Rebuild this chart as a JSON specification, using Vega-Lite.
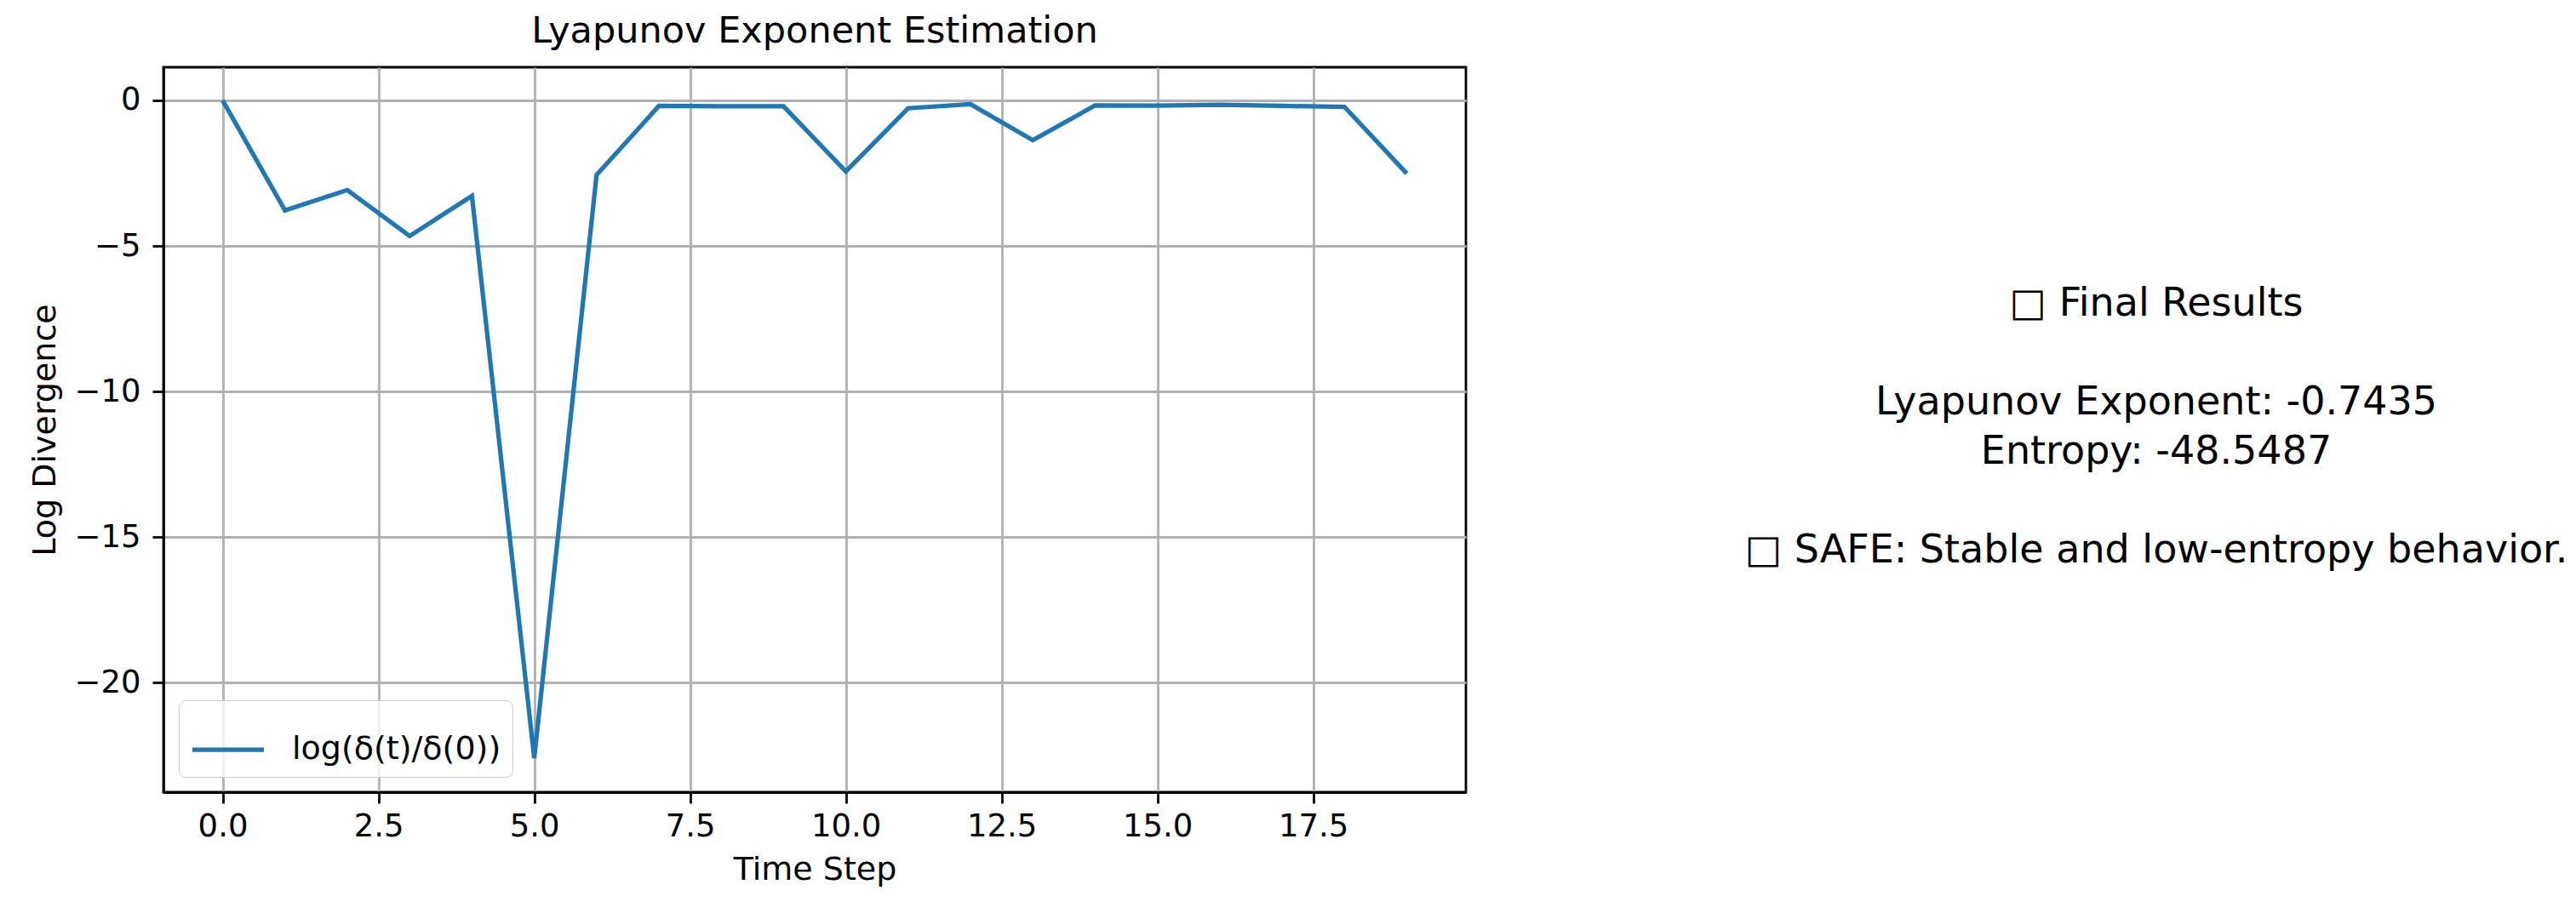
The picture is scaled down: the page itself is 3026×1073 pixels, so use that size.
{
  "$schema": "https://vega.github.io/schema/vega-lite/v6.json",
  "background": "white",
  "padding": {"left": 33, "top": 14, "right": 0, "bottom": 0},
  "config": {
    "font": "DejaVu Sans",
    "view": {"stroke": "black", "strokeWidth": 2.8},
    "axis": {
      "labelFont": "DejaVu Sans",
      "titleFont": "DejaVu Sans",
      "labelFontSize": 37,
      "titleFontSize": 38,
      "titleFontWeight": "normal",
      "labelColor": "black",
      "titleColor": "black",
      "tickColor": "black",
      "tickSize": 13,
      "tickWidth": 2.8,
      "domainColor": "black",
      "domainWidth": 2.8,
      "gridColor": "#b0b0b0",
      "gridWidth": 2.8,
      "gridOpacity": 1,
      "labelPadding": 14
    }
  },
  "hconcat": [
    {
      "width": 1530,
      "height": 852,
      "title": {"text": "Lyapunov Exponent Estimation", "fontSize": 43, "fontWeight": "normal", "font": "DejaVu Sans", "color": "black", "anchor": "middle", "offset": 20},
      "data": {"values": [
        {"t": 0, "v": 0.0},
        {"t": 1, "v": -3.78},
        {"t": 2, "v": -3.08},
        {"t": 3, "v": -4.66},
        {"t": 4, "v": -3.28},
        {"t": 5, "v": -22.6},
        {"t": 6, "v": -2.56},
        {"t": 7, "v": -0.19},
        {"t": 8, "v": -0.2},
        {"t": 9, "v": -0.2},
        {"t": 10, "v": -2.44},
        {"t": 11, "v": -0.27},
        {"t": 12, "v": -0.13},
        {"t": 13, "v": -1.37},
        {"t": 14, "v": -0.17},
        {"t": 15, "v": -0.18},
        {"t": 16, "v": -0.15},
        {"t": 17, "v": -0.19},
        {"t": 18, "v": -0.22},
        {"t": 19, "v": -2.51}
      ]},
      "mark": {"type": "line", "strokeWidth": 5.25, "clip": true},
      "encoding": {
        "x": {
          "field": "t", "type": "quantitative", "title": "Time Step",
          "scale": {"domain": [-0.95, 19.95], "nice": false, "zero": false},
          "axis": {"values": [0, 2.5, 5, 7.5, 10, 12.5, 15, 17.5], "format": ".1f", "labelPadding": 9, "titlePadding": 14}
        },
        "y": {
          "field": "v", "type": "quantitative", "title": "Log Divergence",
          "scale": {"domain": [-23.77, 1.14], "nice": false, "zero": false},
          "axis": {"values": [0, -5, -10, -15, -20], "format": "d", "titlePadding": 14}
        },
        "color": {
          "datum": "log(δ(t)/δ(0))",
          "type": "nominal",
          "scale": {"range": ["#1f77b4"]},
          "legend": {
            "title": null,
            "orient": "bottom-left",
            "offset": 18,
            "symbolType": "stroke",
            "symbolSize": 7056,
            "symbolStrokeWidth": 5.25,
            "labelFontSize": 38,
            "labelFont": "DejaVu Sans",
            "labelColor": "black",
            "labelLimit": 0,
            "labelOffset": 30,
            "padding": 13,
            "fillColor": "rgba(255,255,255,0.8)",
            "strokeColor": "#cccccc",
            "cornerRadius": 8
          }
        }
      }
    },
    {
      "width": 960,
      "height": 852,
      "view": {"stroke": null},
      "data": {"values": [
        {"line": 0, "text": "□ Final Results"},
        {"line": 2, "text": "Lyapunov Exponent: -0.7435"},
        {"line": 3, "text": "Entropy: -48.5487"},
        {"line": 5, "text": "□ SAFE: Stable and low-entropy behavior."}
      ]},
      "mark": {"type": "text", "fontSize": 46, "font": "DejaVu Sans", "color": "black", "align": "center", "baseline": "middle"},
      "encoding": {
        "y": {"field": "line", "type": "quantitative", "scale": {"domain": [-4.793, 9.897], "reverse": true, "nice": false, "zero": false}, "axis": null},
        "text": {"field": "text", "type": "nominal"}
      }
    }
  ],
  "spacing": 325
}
